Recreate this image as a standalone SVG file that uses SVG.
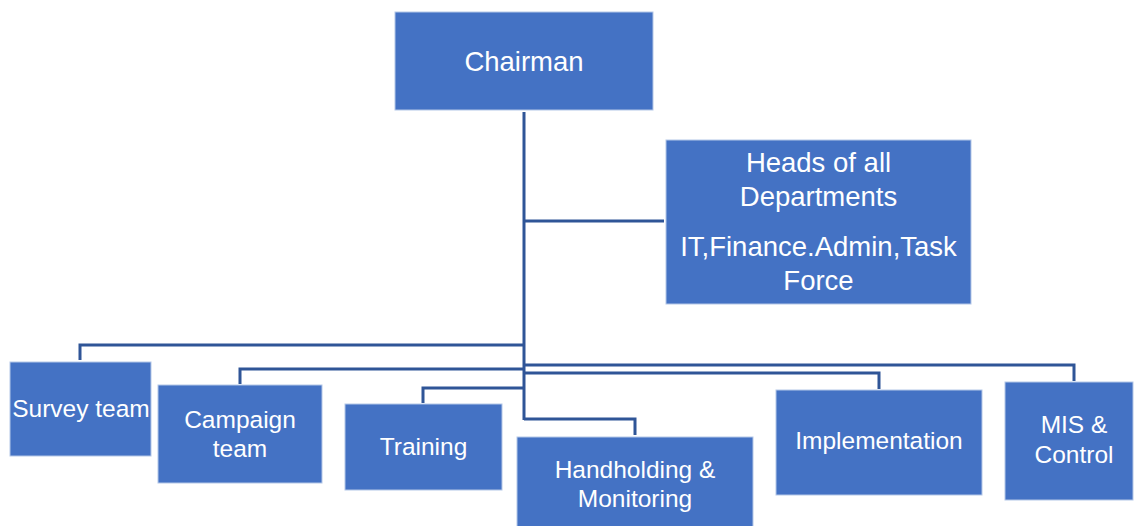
<svg xmlns="http://www.w3.org/2000/svg" width="1134" height="526" viewBox="0 0 1134 526">
<style>
.box{fill:#4472C4;stroke:#B4C7E7;stroke-width:1}
.t{font-family:"Liberation Sans",Arial,sans-serif;fill:#FFFFFF;text-anchor:middle}
.big{font-size:27.5px}
.sm{font-size:24.5px}
.c{fill:none;stroke:#2F5597;stroke-width:3}
</style>
<rect width="1134" height="526" fill="#FFFFFF"/>
<g id="connectors">
<path class="c" d="M524,112 V420"/>
<path class="c" d="M524,221 H664"/>
<path class="c" d="M524,345 H80 V360"/>
<path class="c" d="M524,369 H240 V384"/>
<path class="c" d="M524,388 H423 V403"/>
<path class="c" d="M524,419 H635 V435"/>
<path class="c" d="M524,365 H1074 V381"/>
<path class="c" d="M524,373 H879 V389"/>
</g>
<g id="chairman">
<rect class="box" x="395" y="12" width="258" height="98"/>
<text class="t big" x="524" y="71">Chairman</text>
</g>
<g id="heads">
<rect class="box" x="666" y="140" width="305" height="164"/>
<text class="t big" x="818.5" y="172">Heads of all</text>
<text class="t big" x="818.5" y="206">Departments</text>
<text class="t big" x="818.5" y="256">IT,Finance.Admin,Task</text>
<text class="t big" x="818.5" y="290">Force</text>
</g>
<g id="survey">
<rect class="box" x="10" y="362" width="141" height="94"/>
<text class="t sm" x="81" y="417">Survey team</text>
</g>
<g id="campaign">
<rect class="box" x="158" y="385" width="164" height="98"/>
<text class="t sm" x="240" y="428">Campaign</text>
<text class="t sm" x="240" y="457">team</text>
</g>
<g id="training">
<rect class="box" x="345" y="404" width="157" height="86"/>
<text class="t sm" x="423.5" y="455">Training</text>
</g>
<g id="handholding">
<rect class="box" x="517" y="437" width="236" height="95"/>
<text class="t sm" x="635" y="478">Handholding &amp;</text>
<text class="t sm" x="635" y="507">Monitoring</text>
</g>
<g id="implementation">
<rect class="box" x="776" y="390" width="206" height="105"/>
<text class="t sm" x="879" y="449">Implementation</text>
</g>
<g id="mis">
<rect class="box" x="1005" y="382" width="128" height="118"/>
<text class="t sm" x="1074" y="433">MIS &amp;</text>
<text class="t sm" x="1074" y="463">Control</text>
</g>
</svg>
